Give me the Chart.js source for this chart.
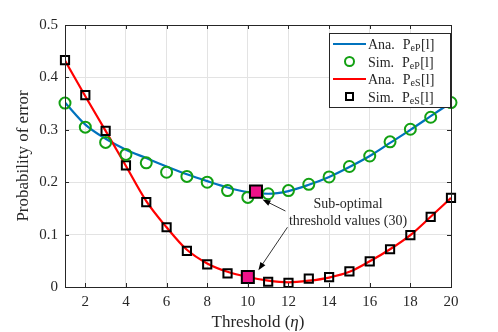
<!DOCTYPE html>
<html>
<head>
<meta charset="utf-8">
<script src="https://cdn.jsdelivr.net/npm/chart.js@4.4.0/dist/chart.umd.min.js"></script>
<style>
    html, body { margin: 0; padding: 0; background: #fff; }
    #wrap { width: 498px; height: 332px; }
</style>
</head>
<body>
<div id="wrap"><canvas id="chart" width="498" height="332"></canvas></div>
<script>
// Threshold axis
const thresholds = [1, 2, 3, 4, 5, 6, 7, 8, 9, 10, 11, 12, 13, 14, 15, 16, 17, 18, 19, 20];

// P_eP[l]
const anaPeP = [0.352, 0.310, 0.283, 0.262, 0.246, 0.230, 0.215, 0.202, 0.190, 0.181, 0.178, 0.183, 0.195, 0.210, 0.229, 0.250, 0.275, 0.300, 0.326, 0.352];
const simPeP = [0.351, 0.305, 0.276, 0.253, 0.237, 0.219, 0.211, 0.200, 0.184, 0.171, 0.178, 0.184, 0.196, 0.210, 0.230, 0.250, 0.277, 0.301, 0.324, 0.352];

// P_eS[l]
const anaPeS = [0.432, 0.364, 0.298, 0.231, 0.164, 0.114, 0.071, 0.045, 0.029, 0.019, 0.012, 0.009, 0.012, 0.018, 0.029, 0.049, 0.072, 0.099, 0.134, 0.170];
const simPeS = [0.433, 0.366, 0.298, 0.232, 0.162, 0.114, 0.069, 0.043, 0.026, 0.019, 0.010, 0.008, 0.016, 0.019, 0.030, 0.049, 0.072, 0.099, 0.134, 0.170];

// Sub-optimal threshold points
const optX = [10.4, 10];
const optY = [0.182, 0.019];

// Tick labels
const xTicks = [2, 4, 6, 8, 10, 12, 14, 16, 18, 20];
const yTicks = [0, 0.1, 0.2, 0.3, 0.4, 0.5];

const SERIF = "'Liberation Serif', 'Times New Roman', serif";
const AXIS_COLOR = '#262626';

function toPoints(xs, ys) {
    return xs.map((x, i) => ({ x: x, y: ys[i] }));
}

// Legend, titles, box and annotation drawn on the canvas
const decorPlugin = {
    id: 'decor',
    afterDraw(chart) {
        const ctx = chart.ctx;
        const area = chart.chartArea;
        const xs = chart.scales.x;
        const ys = chart.scales.y;

        ctx.save();

        // axes box
        ctx.strokeStyle = AXIS_COLOR;
        ctx.lineWidth = 1;
        ctx.strokeRect(Math.round(area.left) + 0.5, Math.round(area.top) + 0.5,
            Math.round(area.right - area.left), Math.round(area.bottom - area.top));

        // inward tick marks
        ctx.beginPath();
        xTicks.forEach(v => {
            const px = Math.round(xs.getPixelForValue(v)) + 0.5;
            ctx.moveTo(px, area.bottom); ctx.lineTo(px, area.bottom - 4);
            ctx.moveTo(px, area.top); ctx.lineTo(px, area.top + 4);
        });
        yTicks.forEach(v => {
            const py = Math.round(ys.getPixelForValue(v)) + 0.5;
            ctx.moveTo(area.left, py); ctx.lineTo(area.left + 4, py);
            ctx.moveTo(area.right, py); ctx.lineTo(area.right - 4, py);
        });
        ctx.stroke();

        // x title with italic eta
        ctx.fillStyle = AXIS_COLOR;
        ctx.textBaseline = 'alphabetic';
        const fN = '17px ' + SERIF;
        const fI = 'italic 17px ' + SERIF;
        const parts = [['Threshold (', fN], ['\u03B7', fI], [')', fN]];
        let total = 0;
        parts.forEach(p => { ctx.font = p[1]; total += ctx.measureText(p[0]).width; });
        let cx = (area.left + area.right) / 2 - total / 2;
        parts.forEach(p => {
            ctx.font = p[1];
            ctx.textAlign = 'left';
            ctx.fillText(p[0], cx, 327);
            cx += ctx.measureText(p[0]).width;
        });

        // y title
        ctx.save();
        ctx.translate(28, (area.top + area.bottom) / 2);
        ctx.rotate(-Math.PI / 2);
        ctx.font = fN;
        ctx.textAlign = 'center';
        ctx.fillText('Probability of error', 0, 0);
        ctx.restore();

        // annotation arrows
        const arrows = [
            [11.85, 0.145, 10.72, 0.167],
            [11.95, 0.114, 10.52, 0.032]
        ];
        ctx.strokeStyle = '#000';
        ctx.fillStyle = '#000';
        ctx.lineWidth = 0.8;
        arrows.forEach(a => {
            const x1 = xs.getPixelForValue(a[0]), y1 = ys.getPixelForValue(a[1]);
            const x2 = xs.getPixelForValue(a[2]), y2 = ys.getPixelForValue(a[3]);
            const ang = Math.atan2(y2 - y1, x2 - x1);
            ctx.beginPath();
            ctx.moveTo(x1, y1);
            ctx.lineTo(x2 - 6 * Math.cos(ang), y2 - 6 * Math.sin(ang));
            ctx.stroke();
            ctx.beginPath();
            ctx.moveTo(x2, y2);
            ctx.lineTo(x2 - 8 * Math.cos(ang) + 3 * Math.sin(ang), y2 - 8 * Math.sin(ang) - 3 * Math.cos(ang));
            ctx.lineTo(x2 - 8 * Math.cos(ang) - 3 * Math.sin(ang), y2 - 8 * Math.sin(ang) + 3 * Math.cos(ang));
            ctx.closePath();
            ctx.fill();
        });

        // annotation text
        ctx.fillStyle = AXIS_COLOR;
        ctx.font = '14px ' + SERIF;
        ctx.textAlign = 'center';
        ctx.textBaseline = 'middle';
        const tx = xs.getPixelForValue(14.93);
        ctx.fillText('Sub-optimal', tx, ys.getPixelForValue(0.157));
        ctx.fillText('threshold values (30)', tx, ys.getPixelForValue(0.126));

        // legend
        const lx = 329, ly = 33, lw = 121, lh = 74;
        ctx.fillStyle = '#fff';
        ctx.fillRect(lx, ly, lw, lh);
        ctx.strokeStyle = AXIS_COLOR;
        ctx.lineWidth = 1;
        ctx.strokeRect(lx + 0.5, ly + 0.5, lw, lh);

        const entries = [
            { pre: 'Ana.', sub: 'eP', kind: 'line', color: '#0072BD' },
            { pre: 'Sim.', sub: 'eP', kind: 'circle', color: '#12a012' },
            { pre: 'Ana.', sub: 'eS', kind: 'line', color: '#ff0000' },
            { pre: 'Sim.', sub: 'eS', kind: 'square', color: '#000' }
        ];
        entries.forEach((e, i) => {
            const cy = ly + 11 + i * 17.5;
            if (e.kind === 'line') {
                ctx.strokeStyle = e.color;
                ctx.lineWidth = 2;
                ctx.beginPath();
                ctx.moveTo(333, cy); ctx.lineTo(366, cy);
                ctx.stroke();
            } else if (e.kind === 'circle') {
                ctx.strokeStyle = e.color;
                ctx.lineWidth = 2;
                ctx.beginPath();
                ctx.arc(349.5, cy, 4.5, 0, Math.PI * 2);
                ctx.stroke();
            } else {
                ctx.strokeStyle = e.color;
                ctx.lineWidth = 2;
                ctx.strokeRect(346, cy - 3.5, 7, 7);
            }
            ctx.fillStyle = AXIS_COLOR;
            ctx.textAlign = 'left';
            ctx.textBaseline = 'alphabetic';
            const base = cy + 5;
            let tx2 = 368;
            ctx.font = '14px ' + SERIF;
            ctx.fillText(e.pre, tx2, base);
            tx2 += ctx.measureText(e.pre).width + 8;
            ctx.fillText('P', tx2, base);
            tx2 += ctx.measureText('P').width;
            ctx.font = '10px ' + SERIF;
            ctx.fillText(e.sub, tx2, base + 2);
            tx2 += ctx.measureText(e.sub).width + 0.5;
            ctx.font = '14px ' + SERIF;
            ctx.fillText('[l]', tx2, base);
        });

        ctx.restore();
    }
};

new Chart(document.getElementById('chart'), {
    type: 'scatter',
    data: {
        datasets: [
            {
                label: 'Ana. PeP[l]',
                data: toPoints(thresholds, anaPeP),
                showLine: true,
                borderColor: '#0072BD',
                borderWidth: 2.2,
                pointRadius: 0,
                cubicInterpolationMode: 'monotone',
                order: 3
            },
            {
                label: 'Sim. PeP[l]',
                data: toPoints(thresholds, simPeP),
                showLine: false,
                pointStyle: 'circle',
                pointRadius: 5.5,
                pointBorderWidth: 2,
                borderColor: '#12a012',
                backgroundColor: 'rgba(0,0,0,0)',
                clip: false,
                order: 1
            },
            {
                label: 'Ana. PeS[l]',
                data: toPoints(thresholds, anaPeS),
                showLine: true,
                borderColor: '#ff0000',
                borderWidth: 2.2,
                pointRadius: 0,
                cubicInterpolationMode: 'monotone',
                order: 2
            },
            {
                label: 'Sim. PeS[l]',
                data: toPoints(thresholds, simPeS),
                showLine: false,
                pointStyle: 'rect',
                pointRadius: 5.8,
                pointBorderWidth: 2,
                borderColor: '#000',
                backgroundColor: 'rgba(0,0,0,0)',
                clip: false,
                order: 1
            },
            {
                label: 'Sub-optimal threshold',
                data: toPoints(optX, optY),
                showLine: false,
                pointStyle: 'rect',
                pointRadius: 8.5,
                pointBorderWidth: 2,
                borderColor: '#000',
                backgroundColor: '#ee1289',
                clip: false,
                order: 0
            }
        ]
    },
    options: {
        responsive: false,
        animation: false,
        devicePixelRatio: 1,
        layout: { padding: { left: 0, right: 47, top: 25, bottom: 0 } },
        plugins: {
            legend: { display: false },
            tooltip: { enabled: false }
        },
        scales: {
            x: {
                type: 'linear',
                min: 1,
                max: 20,
                afterBuildTicks: s => { s.ticks = xTicks.map(v => ({ value: v })); },
                afterFit: s => { s.height = 45; },
                ticks: {
                    color: AXIS_COLOR,
                    font: { family: SERIF, size: 15 },
                    padding: 6,
                    maxRotation: 0,
                    callback: v => String(v)
                },
                grid: { color: '#e3e3e3', drawTicks: false },
                border: { display: false }
            },
            y: {
                min: 0,
                max: 0.5,
                afterBuildTicks: s => { s.ticks = yTicks.map(v => ({ value: v })); },
                afterFit: s => { s.width = 65; },
                ticks: {
                    color: AXIS_COLOR,
                    font: { family: SERIF, size: 15 },
                    padding: 7,
                    callback: v => (v === 0 ? '0' : v.toFixed(1))
                },
                grid: { color: '#e3e3e3', drawTicks: false },
                border: { display: false }
            }
        }
    },
    plugins: [decorPlugin]
});
</script>
</body>
</html>
